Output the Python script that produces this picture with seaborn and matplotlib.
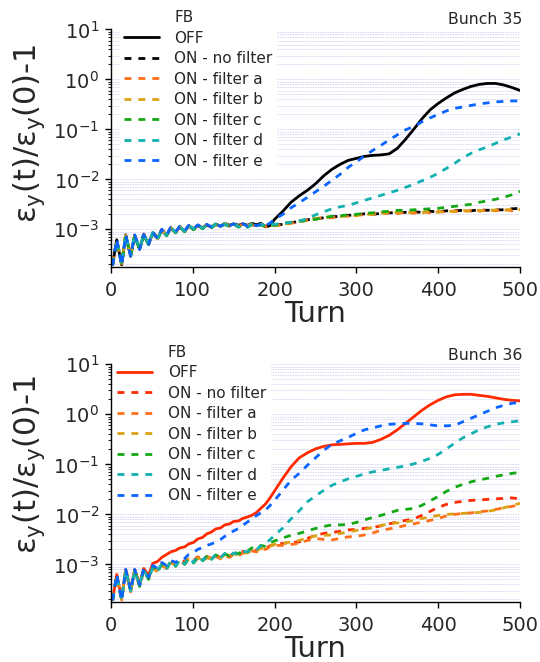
import numpy as np
import pandas as pd
import matplotlib
matplotlib.use("Agg")
import matplotlib.pyplot as plt
import seaborn as sns
from matplotlib.lines import Line2D
from matplotlib.ticker import LogLocator, FixedLocator

sns.set_style("ticks")
plt.rcParams["font.family"] = ["DejaVu Sans"]
plt.rcParams["mathtext.default"] = "regular"

# ---------------- data (log10 of eps_y(t)/eps_y(0)-1) ----------------
turns = [2, 7, 13, 18, 24, 29, 35, 40, 46, 51, 57, 62, 68, 73, 79, 84, 90, 95, 101, 106,
         112, 117, 123, 128, 134, 139, 145, 150, 156, 161, 167, 172, 178, 183, 189, 194, 200,
         210, 220, 230, 240, 250, 260, 270, 280, 290, 300, 310, 320, 330, 340, 350, 360, 370,
         380, 390, 400, 410, 420, 430, 440, 450, 460, 470, 480, 490, 500]

labels = ["OFF", "ON - no filter", "ON - filter a", "ON - filter b",
          "ON - filter c", "ON - filter d", "ON - filter e"]

# Bunch 35
b35_off = [-3.70, -3.21, -3.71, -3.11, -3.54, -3.14, -3.40, -3.12, -3.30, -3.08,
           -3.18, -3.02, -3.12, -2.97, -3.06, -2.95, -3.04, -2.93, -3.00, -2.92,
           -2.98, -2.91, -2.96, -2.90, -2.94, -2.88, -2.92, -2.89, -2.92, -2.89,
           -2.92, -2.88, -2.91, -2.88, -2.95, -2.93, -2.80,
           -2.64, -2.46, -2.33, -2.22, -2.09, -1.93, -1.80, -1.70, -1.62, -1.58,
           -1.54, -1.52, -1.51, -1.49, -1.38, -1.20, -1.00, -0.79, -0.61, -0.48,
           -0.37, -0.27, -0.20, -0.14, -0.10, -0.08, -0.08, -0.11, -0.16, -0.22]
b35_nof = [-3.72, -3.24, -3.70, -3.14, -3.52, -3.12, -3.38, -3.10, -3.28, -3.06,
           -3.17, -3.01, -3.11, -2.97, -3.05, -2.95, -3.03, -2.93, -2.99, -2.92,
           -2.97, -2.91, -2.95, -2.90, -2.94, -2.89, -2.93, -2.89, -2.93, -2.90,
           -2.93, -2.90, -2.93, -2.90, -2.94, -2.91, -2.92,
           -2.90, -2.87, -2.84, -2.81, -2.79, -2.77, -2.75, -2.74, -2.72, -2.71,
           -2.69, -2.70, -2.68, -2.67, -2.67, -2.66, -2.65, -2.66, -2.64, -2.65,
           -2.63, -2.63, -2.62, -2.63, -2.61, -2.62, -2.61, -2.61, -2.59, -2.58]
b35_a = [-3.68, -3.22, -3.69, -3.13, -3.50, -3.12, -3.36, -3.09, -3.29, -3.05,
         -3.19, -3.00, -3.13, -2.96, -3.07, -2.94, -3.05, -2.92, -3.01, -2.91,
         -2.98, -2.90, -2.96, -2.90, -2.95, -2.89, -2.94, -2.89, -2.95, -2.89,
         -2.94, -2.90, -2.95, -2.90, -2.95, -2.91, -2.93,
         -2.91, -2.88, -2.85, -2.82, -2.80, -2.76, -2.77, -2.73, -2.74, -2.70,
         -2.72, -2.68, -2.70, -2.66, -2.69, -2.65, -2.68, -2.64, -2.67, -2.64,
         -2.66, -2.63, -2.65, -2.62, -2.64, -2.61, -2.63, -2.60, -2.63, -2.59]
b35_b = [-3.70, -3.23, -3.68, -3.12, -3.51, -3.13, -3.37, -3.11, -3.28, -3.07,
         -3.18, -3.01, -3.12, -2.96, -3.06, -2.94, -3.04, -2.93, -3.00, -2.91,
         -2.97, -2.90, -2.95, -2.89, -2.94, -2.88, -2.93, -2.89, -2.94, -2.89,
         -2.93, -2.89, -2.94, -2.90, -2.94, -2.91, -2.92,
         -2.90, -2.87, -2.84, -2.81, -2.78, -2.77, -2.74, -2.75, -2.71, -2.73,
         -2.69, -2.71, -2.67, -2.69, -2.66, -2.68, -2.65, -2.67, -2.64, -2.66,
         -2.63, -2.65, -2.62, -2.64, -2.62, -2.63, -2.61, -2.62, -2.60, -2.61]
b35_c = [-3.71, -3.22, -3.70, -3.13, -3.53, -3.13, -3.39, -3.11, -3.31, -3.07,
         -3.20, -3.02, -3.13, -2.97, -3.07, -2.95, -3.05, -2.93, -3.01, -2.92,
         -2.99, -2.91, -2.97, -2.90, -2.96, -2.90, -2.95, -2.90, -2.96, -2.91,
         -2.96, -2.91, -2.96, -2.91, -2.95, -2.92, -2.92,
         -2.88, -2.86, -2.84, -2.82, -2.80, -2.77, -2.74, -2.73, -2.71, -2.70,
         -2.68, -2.67, -2.65, -2.64, -2.62, -2.62, -2.61, -2.60, -2.59, -2.58,
         -2.56, -2.54, -2.52, -2.50, -2.46, -2.43, -2.40, -2.36, -2.31, -2.24]
b35_d = [-3.71, -3.21, -3.71, -3.12, -3.52, -3.12, -3.38, -3.10, -3.29, -3.06,
         -3.18, -3.01, -3.12, -2.96, -3.06, -2.94, -3.04, -2.92, -3.00, -2.91,
         -2.98, -2.90, -2.96, -2.89, -2.95, -2.89, -2.94, -2.89, -2.95, -2.90,
         -2.95, -2.90, -2.95, -2.90, -2.93, -2.91, -2.90,
         -2.88, -2.86, -2.83, -2.79, -2.71, -2.65, -2.59, -2.55, -2.52, -2.47,
         -2.42, -2.37, -2.32, -2.27, -2.22, -2.16, -2.10, -2.03, -1.96, -1.88,
         -1.78, -1.68, -1.57, -1.48, -1.41, -1.35, -1.28, -1.21, -1.15, -1.09]
b35_e = [-3.72, -3.20, -3.72, -3.12, -3.53, -3.11, -3.40, -3.10, -3.30, -3.06,
         -3.19, -3.00, -3.12, -2.96, -3.05, -2.94, -3.03, -2.92, -2.99, -2.91,
         -2.97, -2.90, -2.95, -2.89, -2.94, -2.88, -2.93, -2.89, -2.94, -2.89,
         -2.94, -2.89, -2.93, -2.90, -2.92, -2.88, -2.80,
         -2.70, -2.57, -2.47, -2.36, -2.25, -2.14, -2.02, -1.90, -1.76, -1.65,
         -1.53, -1.42, -1.32, -1.21, -1.11, -1.01, -0.94, -0.85, -0.77, -0.70,
         -0.63, -0.58, -0.55, -0.52, -0.49, -0.47, -0.45, -0.44, -0.43, -0.43]

# Bunch 36
b36_off = [-3.70, -3.20, -3.68, -3.10, -3.50, -3.10, -3.40, -3.08, -3.22, -2.98,
           -2.94, -2.86, -2.80, -2.75, -2.72, -2.67, -2.65, -2.59, -2.56, -2.49,
           -2.46, -2.39, -2.35, -2.29, -2.27, -2.21, -2.19, -2.14, -2.13, -2.08,
           -2.05, -2.02, -1.96, -1.88, -1.79, -1.68, -1.53,
           -1.28, -1.05, -0.87, -0.77, -0.69, -0.64, -0.61, -0.60, -0.59, -0.58,
           -0.58, -0.56, -0.50, -0.42, -0.31, -0.18, -0.05, 0.08, 0.19, 0.28,
           0.35, 0.39, 0.40, 0.40, 0.38, 0.36, 0.33, 0.30, 0.28, 0.27]
b36_nof = [-3.72, -3.22, -3.70, -3.12, -3.52, -3.13, -3.40, -3.11, -3.25, -3.05,
           -3.10, -2.98, -3.04, -2.93, -2.98, -2.90, -2.95, -2.87, -2.92, -2.85,
           -2.90, -2.84, -2.88, -2.82, -2.86, -2.80, -2.83, -2.78, -2.80, -2.74,
           -2.76, -2.70, -2.72, -2.66, -2.68, -2.63, -2.60,
           -2.58, -2.56, -2.55, -2.48, -2.42, -2.38, -2.36, -2.34, -2.31, -2.30,
           -2.28, -2.26, -2.23, -2.19, -2.15, -2.12, -2.09, -2.02, -1.94, -1.86,
           -1.80, -1.76, -1.74, -1.72, -1.71, -1.70, -1.69, -1.68, -1.67, -1.69]
b36_a = [-3.70, -3.24, -3.71, -3.14, -3.55, -3.15, -3.43, -3.13, -3.28, -3.08,
         -3.14, -3.02, -3.08, -2.96, -3.02, -2.93, -2.99, -2.90, -2.96, -2.88,
         -2.93, -2.86, -2.91, -2.84, -2.89, -2.82, -2.86, -2.80, -2.83, -2.77,
         -2.79, -2.73, -2.75, -2.69, -2.70, -2.65, -2.62,
         -2.62, -2.60, -2.58, -2.52, -2.48, -2.50, -2.51, -2.48, -2.45, -2.44,
         -2.41, -2.37, -2.32, -2.29, -2.26, -2.22, -2.19, -2.15, -2.12, -2.08,
         -2.03, -2.00, -1.98, -1.97, -1.95, -1.93, -1.90, -1.87, -1.84, -1.81]
b36_b = [-3.71, -3.23, -3.69, -3.13, -3.53, -3.14, -3.42, -3.12, -3.27, -3.07,
         -3.12, -3.00, -3.06, -2.95, -3.00, -2.92, -2.97, -2.89, -2.94, -2.87,
         -2.91, -2.85, -2.89, -2.83, -2.87, -2.81, -2.84, -2.79, -2.81, -2.76,
         -2.77, -2.72, -2.73, -2.68, -2.68, -2.64, -2.60,
         -2.58, -2.55, -2.52, -2.47, -2.43, -2.42, -2.41, -2.38, -2.35, -2.32,
         -2.30, -2.26, -2.22, -2.19, -2.17, -2.15, -2.12, -2.08, -2.05, -2.02,
         -2.00, -1.99, -1.98, -1.97, -1.96, -1.94, -1.91, -1.87, -1.82, -1.78]
b36_c = [-3.72, -3.21, -3.72, -3.11, -3.54, -3.12, -3.44, -3.10, -3.30, -3.05,
         -3.15, -3.00, -3.10, -2.94, -3.04, -2.91, -3.00, -2.88, -2.97, -2.86,
         -2.93, -2.84, -2.90, -2.81, -2.86, -2.79, -2.83, -2.75, -2.79, -2.72,
         -2.73, -2.67, -2.69, -2.62, -2.64, -2.57, -2.53,
         -2.47, -2.42, -2.38, -2.33, -2.28, -2.24, -2.21, -2.21, -2.20, -2.16,
         -2.11, -2.06, -2.02, -1.97, -1.92, -1.90, -1.88, -1.82, -1.73, -1.64,
         -1.54, -1.46, -1.40, -1.35, -1.31, -1.28, -1.24, -1.21, -1.18, -1.16]
b36_d = [-3.71, -3.22, -3.70, -3.12, -3.53, -3.13, -3.42, -3.11, -3.29, -3.06,
         -3.13, -2.99, -3.08, -2.93, -3.03, -2.90, -2.99, -2.87, -2.96, -2.84,
         -2.92, -2.82, -2.90, -2.80, -2.87, -2.78, -2.84, -2.77, -2.80, -2.74,
         -2.75, -2.70, -2.70, -2.63, -2.58, -2.51, -2.42,
         -2.27, -2.09, -1.93, -1.75, -1.63, -1.52, -1.42, -1.35, -1.29, -1.24,
         -1.19, -1.15, -1.12, -1.09, -1.06, -1.03, -0.99, -0.94, -0.88, -0.80,
         -0.69, -0.58, -0.47, -0.39, -0.31, -0.25, -0.20, -0.17, -0.15, -0.13]
b36_e = [-3.72, -3.20, -3.72, -3.10, -3.52, -3.10, -3.41, -3.09, -3.26, -3.02,
         -3.08, -2.96, -3.02, -2.92, -2.96, -2.89, -2.88, -2.80, -2.76, -2.70,
         -2.66, -2.62, -2.59, -2.55, -2.50, -2.44, -2.38, -2.33, -2.28, -2.22,
         -2.15, -2.09, -2.02, -1.97, -1.91, -1.83, -1.72,
         -1.52, -1.32, -1.18, -1.02, -0.87, -0.72, -0.60, -0.53, -0.46, -0.38,
         -0.31, -0.27, -0.23, -0.20, -0.19, -0.18, -0.18, -0.19, -0.21, -0.23,
         -0.23, -0.22, -0.15, -0.08, -0.01, 0.06, 0.13, 0.18, 0.22, 0.24]

xticks = [0, 100, 200, 300, 400, 500]
panel_titles = ["Bunch 35", "Bunch 36"]

# ---------------- style ----------------
col_a, col_b, col_c, col_d, col_e = "#ff6f1a", "#dca014", "#14a814", "#14b0b0", "#0a64ff"
colors35 = ["#000000", "#000000", col_a, col_b, col_c, col_d, col_e]
colors36 = ["#ff2a00", "#ff2a00", col_a, col_b, col_c, col_d, col_e]
DASH = (0, (2.5, 2.5))
styles = ["-", DASH, DASH, DASH, DASH, DASH, DASH]

W, H = 540, 662
fig = plt.figure(figsize=(W / 100, H / 100), dpi=100)

def fy(py):
    return 1 - py / H

ax1 = fig.add_axes([111 / W, fy(266.5), 409 / W, 237 / H])
ax2 = fig.add_axes([111 / W, fy(601.7), 409 / W, 237.4 / H])

panels = [
    (ax1, [b35_off, b35_nof, b35_a, b35_b, b35_c, b35_d, b35_e], colors35,
     (119.5, 5.5), (522, 19), 133),
    (ax2, [b36_off, b36_nof, b36_a, b36_b, b36_c, b36_d, b36_e], colors36,
     (112.7, 340.0), (522, 355), 464),
]

for i, (ax, series, cols, leg_pos, title_pos, ylab_y) in enumerate(panels):
    for lab, logs, c, ls in zip(labels, series, cols, styles):
        df = pd.DataFrame({"turn": turns, "val": 10 ** np.array(logs)})
        sns.lineplot(data=df, x="turn", y="val", ax=ax, color=c, linestyle=ls,
                     linewidth=2.0, label=lab, legend=False)
    ax.set_yscale("log")
    ax.set_xlim(0, 500)
    ax.set_ylim(1.8e-4, 10)
    ax.xaxis.set_major_locator(FixedLocator(xticks))
    ax.yaxis.set_major_locator(LogLocator(base=10, numticks=10))
    ax.yaxis.set_minor_locator(LogLocator(base=10, subs=np.arange(2, 10), numticks=20))
    ax.grid(which="both", axis="y", color="#c8c8f0", linestyle=(0, (1, 1)), linewidth=0.6)
    ax.grid(False, axis="x")
    ax.set_axisbelow(True)
    for s in ["top", "right"]:
        ax.spines[s].set_visible(False)
    for s in ["left", "bottom"]:
        ax.spines[s].set_linewidth(1.0)
        ax.spines[s].set_color("black")
    ax.tick_params(axis="both", which="major", direction="out", length=4.5, width=1.0,
                   labelsize=14, color="black")
    ax.tick_params(axis="y", which="major", pad=4)
    ax.tick_params(axis="x", which="major", pad=6)
    ax.tick_params(axis="y", which="minor", direction="out", length=2.5, width=0.8)
    ax.set_xlabel("Turn", fontsize=21, labelpad=0)
    ax.set_ylabel("")

    handles = [Line2D([], [], color="none")] + list(ax.lines[:7])
    leg = ax.legend(handles, ["FB"] + labels, loc="upper left",
                    bbox_to_anchor=(leg_pos[0] / W, fy(leg_pos[1])),
                    bbox_transform=fig.transFigure, frameon=True, fontsize=11,
                    handlelength=2.3, handletextpad=1.0, labelspacing=0.36,
                    borderpad=0.3, borderaxespad=0)
    leg.get_frame().set_facecolor("white")
    leg.get_frame().set_edgecolor("none")
    leg.get_frame().set_alpha(1)
    leg.set_zorder(1.5)  # hide grid behind legend, keep curves on top

    fig.text(title_pos[0] / W, fy(title_pos[1]), panel_titles[i], ha="right",
             va="center", fontsize=11.3)
    fig.text(29 / W, fy(ylab_y), "ε$_y$(t)/ε$_y$(0)-1", rotation=90,
             ha="center", va="center", fontsize=22)

fig.savefig("out.png", dpi=100)
